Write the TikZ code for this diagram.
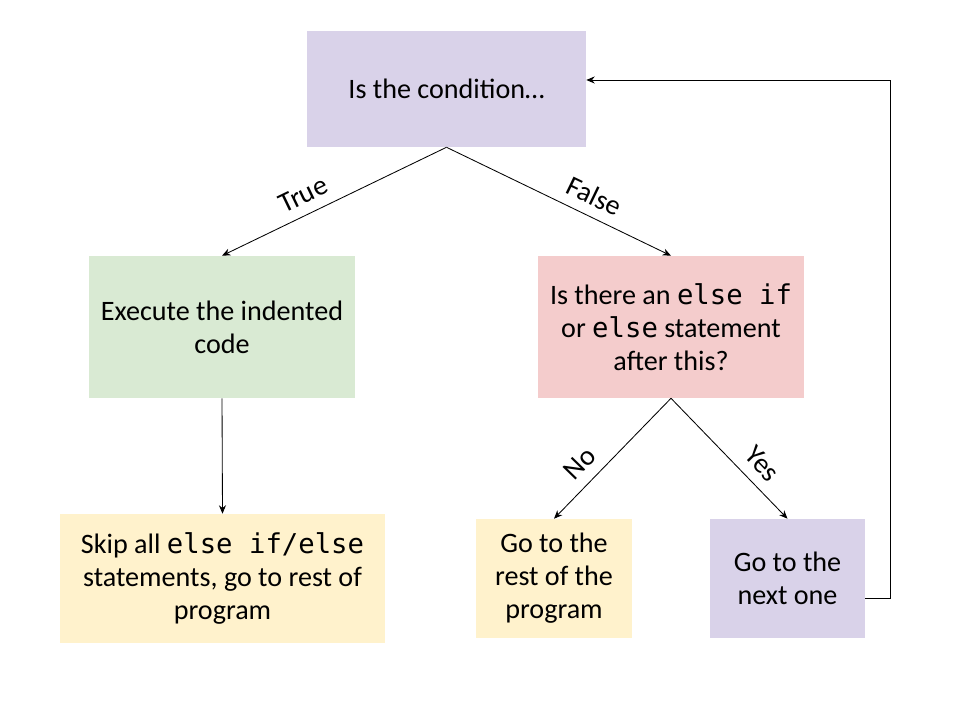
\documentclass[tikz,border=0pt]{standalone}
\usepackage{fontspec}
\setmainfont{Carlito}
\setmonofont{DejaVu Sans Mono}[Scale=0.97]
\usetikzlibrary{arrows.meta}

\definecolor{lav}{HTML}{D9D2E9}
\definecolor{mint}{HTML}{D9EAD3}
\definecolor{rose}{HTML}{F4CCCC}
\definecolor{cream}{HTML}{FFF2CC}

\tikzset{
	box/.style={rectangle, draw=none, align=center, inner sep=0pt,
		font=\fontsize{20}{23.5}\selectfont},
	flow/.style={-{Stealth[length=6pt,width=5pt]}, line width=0.6pt},
	lbl/.style={font=\fontsize{20}{24}\selectfont, sloped, above=4pt}
}

\begin{document}
\begin{tikzpicture}[x=0.025cm, y=-0.025cm]
	\useasboundingbox (0,0) rectangle (960,720);

	% boxes
	\node[box, fill=lav, minimum width=279*0.025cm, minimum height=116*0.025cm] (cond) at (446.5,89) {Is the condition\dots};
	\node[box, fill=mint, minimum width=266*0.025cm, minimum height=142*0.025cm] (exec) at (222,327) {Execute the indented\\code};
	\node[box, fill=rose, minimum width=266*0.025cm, minimum height=142*0.025cm] (elseq) at (671,327) {Is there an \texttt{else if}\\or \texttt{else} statement\\after this?};
	\node[box, fill=cream, minimum width=325*0.025cm, minimum height=129*0.025cm] (skip) at (222.5,578.5) {Skip all \texttt{else if/else}\\statements, go to rest of\\program};
	\node[box, fill=cream, minimum width=156*0.025cm, minimum height=119*0.025cm] (rest) at (554,578.5) {Go to the\\rest of the\\program};
	\node[box, fill=lav, minimum width=155*0.025cm, minimum height=119*0.025cm] (next) at (787.5,578.5) {Go to the\\next one};

	% connectors
	\draw[flow] (cond.south) -- node[lbl, pos=0.6] {True} (exec.north);
	\draw[flow] (cond.south) -- node[lbl, pos=0.62] {False} (elseq.north);
	\draw[flow] (exec.south) -- (skip.north);
	\draw[flow] (elseq.south) -- node[lbl, pos=0.66] {No} (rest.north);
	\draw[flow] (elseq.south) -- node[lbl, pos=0.66] {Yes} (next.north);

	\coordinate (loop) at (890,598);
	\coordinate (top) at (890,80);
	\draw[flow] (next.east |- loop) -- (loop) -- (top) -- (cond.east |- top);
\end{tikzpicture}
\end{document}
